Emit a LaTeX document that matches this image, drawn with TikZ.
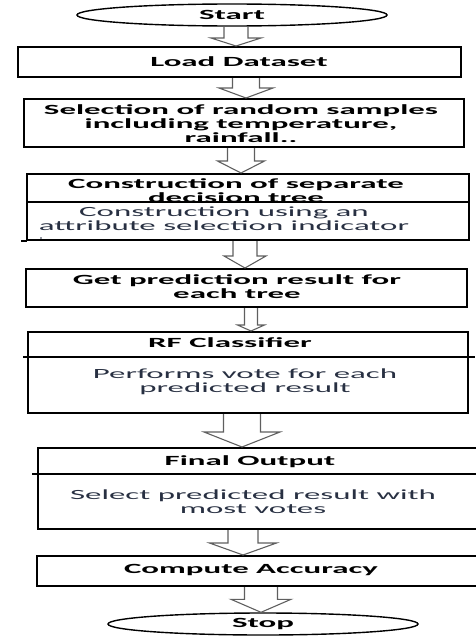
\documentclass[tikz,border=0pt]{standalone}
\usepackage{fontspec}
\setmainfont{Carlito}[FakeStretch=2.35]
\usetikzlibrary{calc,shapes.geometric}
\definecolor{bodytext}{RGB}{40,48,66}
\definecolor{arrowgray}{RGB}{95,95,95}

% hollow block arrow: from, to, x, shaft half width, head half width, head height
\newcommand\hollowarrow[6]{%
  \draw[hollow] (#3-#4,0 |- #1.south) -- ($(#3-#4,0 |- #2.north)+(0,-#6)$)
    -- ($(#3-#5,0 |- #2.north)+(0,-#6)$) -- (#3,0 |- #2.north)
    -- ($(#3+#5,0 |- #2.north)+(0,-#6)$) -- ($(#3+#4,0 |- #2.north)+(0,-#6)$)
    -- (#3+#4,0 |- #1.south);}

\begin{document}
\begin{tikzpicture}[x=1pt,y=-1pt,
  frame/.style={draw=black,line width=2pt,inner sep=0pt},
  terminal/.style={ellipse,draw=black,line width=1.4pt,inner sep=0pt,
    font=\fontsize{14}{14}\selectfont\bfseries},
  title/.style={font=\fontsize{14}{14}\selectfont\bfseries,align=center,inner sep=0pt},
  body/.style={font=\fontsize{14}{14}\selectfont,text=bodytext,align=center,inner sep=0pt},
  divider/.style={black,line width=1.4pt},
  hollow/.style={arrowgray,line width=1.1pt,line join=miter}]

\useasboundingbox (0,0) rectangle (475,637);

% terminals
\node[terminal,minimum width=310,minimum height=22] (start) at (232,15) {Start};
\node[terminal,minimum width=310,minimum height=22] (stop) at (263,624) {Stop};

% boxes
\node[frame,minimum width=443,minimum height=30] (load) at (239.5,62) {};
\node[frame,minimum width=440,minimum height=48] (select) at (244,123) {};
\node[frame,minimum width=442,minimum height=66] (cons) at (248,207) {};
\node[frame,minimum width=441,minimum height=38] (pred) at (246.5,288) {};
\node[frame,minimum width=440,minimum height=81] (rf) at (248,372.5) {};
\node[frame,minimum width=439,minimum height=81] (final) at (257.5,488.5) {};
\node[frame,minimum width=440,minimum height=30] (acc) at (257,571) {};

% texts
\node[title] (tload) at (239,62) {Load Dataset};
\node[title] (tselect) at (241,124) {Selection of random samples\\including temperature,\\rainfall..};
\node[title] (tcons) at (236,190.5) {Construction of separate\\decision tree};
\node[body] (bcons) at (224,218.5) {Construction using an\\attribute selection indicator};
\node[title] (tpred) at (237,287) {Get prediction result for\\each tree};
\node[title] (trf) at (230,343) {RF Classifier};
\node[body] (brf) at (245,382) {Performs vote for each\\predicted result};
\node[title] (tfinal) at (250,462) {Final Output};
\node[body] (bfinal) at (253,502) {Select predicted result with\\most votes};
\node[title] (tacc) at (251,570) {Compute Accuracy};

% dividers
\draw[divider] (26,202) -- (470,202);
\draw[divider] (21,241) -- (27,241);
\fill[bodytext] (41,238) circle (0.8);
\draw[divider] (23,357) -- (475,357);
\draw[divider] (32,474) -- (478,474);

% arrows
\hollowarrow{start}{load}{236}{12}{25}{8}
\hollowarrow{load}{select}{246}{13.5}{27}{10}
\hollowarrow{select}{cons}{241}{13.5}{23.5}{12}
\hollowarrow{cons}{pred}{245}{12}{21}{12}
\hollowarrow{pred}{rf}{251}{6.5}{13.5}{6}
\hollowarrow{rf}{final}{242}{18.5}{38}{15}
\hollowarrow{final}{acc}{243}{15}{33.5}{12}
\hollowarrow{acc}{stop}{261}{16.5}{30}{13}
\end{tikzpicture}
\end{document}
